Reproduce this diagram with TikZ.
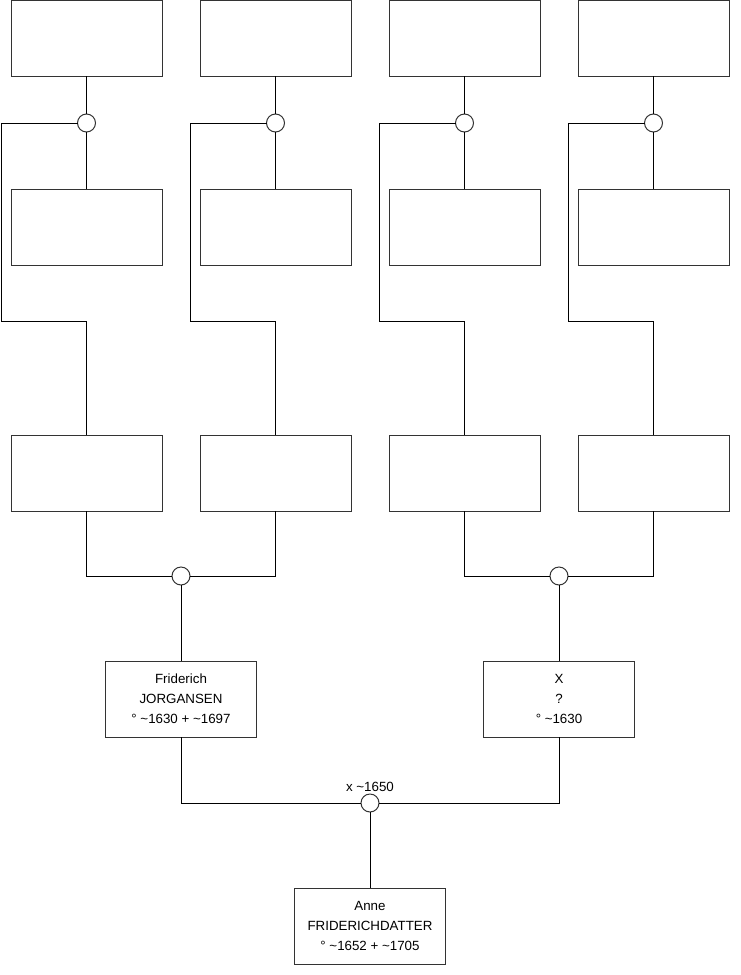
\documentclass[tikz,border=0pt]{standalone}
\usepackage{fontspec}
\setmainfont{Liberation Sans}
\usepackage{tikz}
\usetikzlibrary{positioning,calc}

\newcommand{\tl}{\textasciitilde}

\begin{document}
\begin{tikzpicture}[
    line width=0.75pt,
    block/.style={rectangle, draw=black!80, minimum width=113.25pt, minimum height=57pt, align=center, inner sep=2pt, outer sep=0pt, font=\fontsize{10}{15}\selectfont},
    union/.style={circle, draw=black!80, fill=white, minimum size=13.5pt, inner sep=0pt, outer sep=0pt},
    link/.style={draw=black},
    datelab/.style={font=\fontsize{10}{12}\selectfont, inner sep=1.5pt},
]
    \useasboundingbox (0,0) rectangle (555pt,-731.25pt);

    % --- Row 0: great-grandparents ---
    \node[block] (g1) at (64.875pt,-28.5pt) {};
    \node[block, right=28.5pt of g1] (g2) {};
    \node[block, right=28.5pt of g2] (g3) {};
    \node[block, right=28.5pt of g3] (g4) {};

    % --- Row 1: spouses ---
    \foreach \i in {1,...,4} {
        \node[union, below=28.5pt of g\i] (c\i) {};
        \node[block, below=84.75pt of g\i] (m\i) {};
    }

    % --- Row 2: grandparents ---
    \foreach \i in {1,...,4} {
        \node[block, below=127.5pt of m\i] (f\i) {};
    }

    % --- Unions of grandparents ---
    \node[union] (u1) at ($(f1.south)!0.5!(f2.south)+(0,-48.75pt)$) {};
    \node[union] (u2) at ($(f3.south)!0.5!(f4.south)+(0,-48.75pt)$) {};

    % --- Row 3: parents ---
    \node[block, below=57pt of u1] (father) {Friderich\\JORGANSEN\\° \tl1630 + \tl1697};
    \node[block, below=57pt of u2] (mother) {X\\?\\° \tl1630};

    \node[union] (marr) at ($(father.south)!0.5!(mother.south)+(0,-49.5pt)$) {};
    \node[datelab, above=0pt of marr] (marrlab) {x \tl1650};

    % --- Row 4: child ---
    \node[block, below=57pt of marr] (anne) {Anne\\FRIDERICHDATTER\\° \tl1652 + \tl1705};

    % --- Connectors ---
    \foreach \i in {1,...,4} {
        \draw[link] (g\i.south) -- (c\i.north);
        \draw[link] (c\i.south) -- (m\i.north);
        \draw[link] (c\i.west) -- ($(c\i -| m\i.west)+(-7.5pt,0)$)
            |- ($(m\i.south)+(0,-42pt)$) -- (f\i.north);
    }

    \draw[link] (f1.south) |- (u1.west);
    \draw[link] (f2.south) |- (u1.east);
    \draw[link] (f3.south) |- (u2.west);
    \draw[link] (f4.south) |- (u2.east);
    \draw[link] (u1.south) -- (father.north);
    \draw[link] (u2.south) -- (mother.north);

    \draw[link] (father.south) |- (marr.west);
    \draw[link] (mother.south) |- (marr.east);
    \draw[link] (marr.south) -- (anne.north);

\end{tikzpicture}
\end{document}
